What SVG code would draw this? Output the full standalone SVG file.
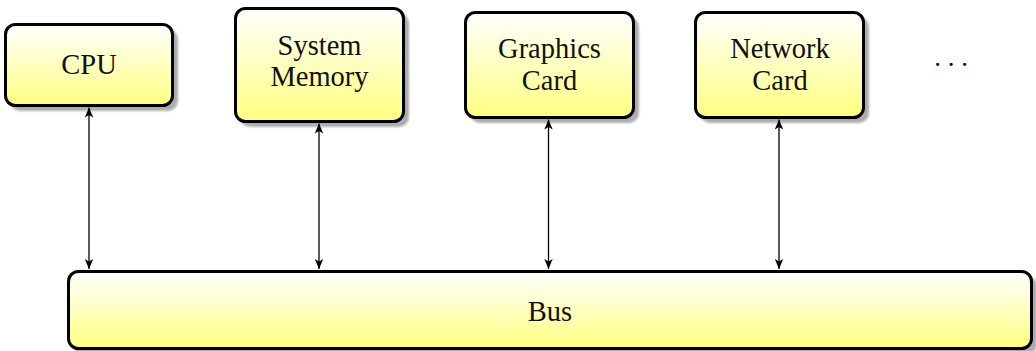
<svg xmlns="http://www.w3.org/2000/svg" width="1036" height="351" viewBox="0 0 1036 351">
  <defs>
    <linearGradient id="fillGrad" x1="0" y1="0" x2="0" y2="1">
      <stop offset="0" stop-color="#ffffff"/>
      <stop offset="1" stop-color="#ffff80"/>
    </linearGradient>
    <filter id="soft" x="-5%" y="-5%" width="110%" height="110%">
      <feGaussianBlur stdDeviation="1"/>
    </filter>
    <marker id="head" viewBox="0 0 10 10" refX="10" refY="5" markerWidth="10" markerHeight="10" markerUnits="userSpaceOnUse" orient="auto-start-reverse">
      <path d="M0,0.8 L10,5 L0,9.2 L2.5,5 Z" fill="#000"/>
    </marker>
  </defs>
  <style>
    .shadow { fill: #000; opacity: 0.32; }
    .box { fill: url(#fillGrad); stroke: #000; stroke-width: 3; }
    .label { font-family: "Liberation Serif", "Times New Roman", serif; font-size: 28.5px; fill: #111; text-anchor: middle; }
    .dots { font-size: 27px; }
    .link { stroke: #000; stroke-width: 1.3; fill: none; marker-start: url(#head); marker-end: url(#head); }
  </style>

  <rect width="1036" height="351" fill="#ffffff"/>

  <!-- units on top -->
  <g id="cpu">
    <rect class="shadow" filter="url(#soft)" x="10" y="29" width="168" height="82" rx="10"/>
    <rect class="box" x="5.5" y="24.5" width="167" height="81" rx="10"/>
    <text class="label" x="89" y="73.5">CPU</text>
  </g>

  <g id="memory">
    <rect class="shadow" filter="url(#soft)" x="240" y="13" width="169" height="114" rx="10"/>
    <rect class="box" x="235.5" y="8.5" width="168" height="113" rx="10"/>
    <text class="label" x="319.5" y="55">System</text>
    <text class="label" x="319.5" y="86">Memory</text>
  </g>

  <g id="graphics">
    <rect class="shadow" filter="url(#soft)" x="470" y="17" width="169" height="106" rx="10"/>
    <rect class="box" x="465.5" y="12.5" width="168" height="105" rx="10"/>
    <text class="label" x="549.5" y="58">Graphics</text>
    <text class="label" x="549.5" y="90">Card</text>
  </g>

  <g id="network">
    <rect class="shadow" filter="url(#soft)" x="700" y="17" width="169" height="106" rx="10"/>
    <rect class="box" x="695.5" y="12.5" width="168" height="105" rx="10"/>
    <text class="label" x="780" y="58">Network</text>
    <text class="label" x="780" y="90">Card</text>
  </g>

  <g id="more">
    <text class="label dots" x="951" y="65.5">. . .</text>
  </g>

  <!-- shared bus -->
  <g id="bus">
    <rect class="shadow" filter="url(#soft)" x="73" y="276" width="964" height="78" rx="10"/>
    <rect class="box" x="68.5" y="271.5" width="963" height="77" rx="10"/>
    <text class="label" x="550" y="320.5">Bus</text>
  </g>

  <!-- two-way links between units and bus -->
  <g id="connectors">
    <line class="link" x1="89" y1="107.5" x2="89" y2="269"/>
    <line class="link" x1="319" y1="123.5" x2="319" y2="269"/>
    <line class="link" x1="548.5" y1="119.5" x2="548.5" y2="269"/>
    <line class="link" x1="779" y1="119.5" x2="779" y2="269"/>
  </g>
</svg>
